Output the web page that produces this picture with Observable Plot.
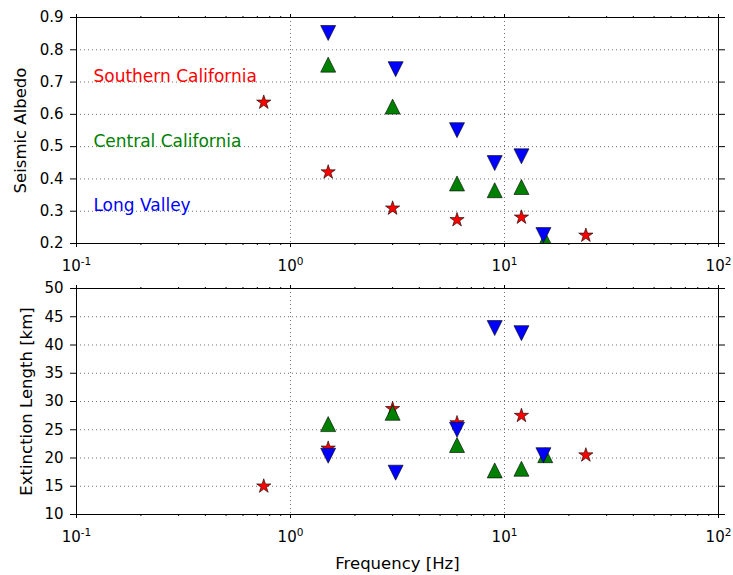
<!DOCTYPE html>
<html><head><meta charset="utf-8">
<script src="https://cdn.jsdelivr.net/npm/d3@7"></script>
<script src="https://cdn.jsdelivr.net/npm/@observablehq/plot@0.6"></script>
<style>body{margin:0;background:#fff} #chart svg{display:block}</style>
</head><body><div id="chart"></div>
<script>
// ---- data ----
const freqSoCal = [0.75, 1.5, 3, 6, 12, 24];
const freqCentral = [1.5, 3, 6, 9, 12, 15.5];
const freqLongValley = [1.5, 3.1, 6, 9, 12, 15.2];
const albedoSoCal = [0.637, 0.421, 0.309, 0.273, 0.281, 0.225];
const albedoCentral = [0.754, 0.624, 0.386, 0.365, 0.375, 0.212];
const albedoLongValley = [0.852, 0.740, 0.551, 0.449, 0.470, 0.226];
const extSoCal = [15.0, 21.7, 28.7, 26.2, 27.5, 20.5];
const extCentral = [26.0, 28.0, 22.3, 17.8, 18.1, 20.5];
const extLongValley = [20.4, 17.4, 25.0, 43.0, 42.1, 20.5];
const regionNames = ["Southern California", "Central California", "Long Valley"];
const regionColors = ["#ff0000", "#008000", "#0000ff"];
const regionLabelY = [0.7, 0.5, 0.3];
const regionLabelX = 0.12;
const xMajor = [0.1, 1, 10, 100];
const xTickBase = "10";
const xTickExponents = ["-1", "0", "1", "2"];
const xMinor = [0.2, 0.3, 0.4, 0.5, 0.6, 0.7, 0.8, 0.9, 2, 3, 4, 5, 6, 7, 8, 9, 20, 30, 40, 50, 60, 70, 80, 90];
const xGrid = [1, 10];
const albedoTicks = [0.2, 0.3, 0.4, 0.5, 0.6, 0.7, 0.8, 0.9];
const albedoTickLabels = ["0.2", "0.3", "0.4", "0.5", "0.6", "0.7", "0.8", "0.9"];
const extTicks = [10, 15, 20, 25, 30, 35, 40, 45, 50];

// ---- marker shapes (matplotlib-like) ----
const triUp = {draw(c, size) { const h = Math.sqrt(size / Math.PI); c.moveTo(0, -h); c.lineTo(h, h); c.lineTo(-h, h); c.closePath(); }};
const triDown = {draw(c, size) { const h = Math.sqrt(size / Math.PI); c.moveTo(0, h); c.lineTo(h, -h); c.lineTo(-h, -h); c.closePath(); }};
const star = {draw(c, size) {
  const R = Math.sqrt(size / Math.PI), r = R * 0.381966;
  for (let i = 0; i < 10; i++) {
    const a = -Math.PI / 2 + i * Math.PI / 5, rr = i % 2 ? r : R;
    const px = rr * Math.cos(a), py = rr * Math.sin(a);
    if (i === 0) c.moveTo(px, py); else c.lineTo(px, py);
  }
  c.closePath();
}};
const symbols = [star, triUp, triDown];

const rows = (f, v) => f.map((d, i) => ({f: d, v: v[i]}));
const gridStyle = {stroke: "#000", strokeOpacity: 0.7, strokeWidth: 0.8, strokeDasharray: "1,3"};

// measure text widths for centring "10" + superscript exponent
const ctx2d = document.createElement("canvas").getContext("2d");
function textWidth(s, size) { ctx2d.font = `${size}px "DejaVu Sans"`; return ctx2d.measureText(s).width; }
const baseSize = 15, expSize = 10.5;

function xTickLabelMarks() {
  const B = textWidth(xTickBase, baseSize);
  return xMajor.flatMap((v, i) => {
    const E = textWidth(xTickExponents[i], expSize);
    const dx = (B - E) / 2;
    return [
      Plot.text([v], {x: d => d, text: () => xTickBase, frameAnchor: "bottom", textAnchor: "end", lineAnchor: "top", dx, dy: 16.5, fontSize: baseSize}),
      Plot.text([v], {x: d => d, text: () => xTickExponents[i], frameAnchor: "bottom", textAnchor: "start", lineAnchor: "top", dx, dy: 13.8, fontSize: expSize})
    ];
  });
}

function panel({series, yDomain, yTicks, yFormat, yGrid, yLabel, yLabelDx, height, marginTop, marginBottom, texts, xLabel}) {
  const marks = [
    Plot.gridX(xGrid, gridStyle),
    Plot.gridY(yGrid, gridStyle),
    Plot.axisX(xMajor, {anchor: "bottom", tickSize: 4, label: null, tickFormat: () => ""}),
    Plot.axisX(xMinor, {anchor: "bottom", tickSize: 2, label: null, tickFormat: () => ""}),
    Plot.axisX(xMajor, {anchor: "top", tickSize: 4, label: null, tickFormat: () => ""}),
    Plot.axisX(xMinor, {anchor: "top", tickSize: 2, label: null, tickFormat: () => ""}),
    ...xTickLabelMarks(),
    Plot.axisY(yTicks, {anchor: "left", tickSize: 6, tickPadding: 7, label: null, tickFormat: yFormat}),
    Plot.axisY(yTicks, {anchor: "right", tickSize: 6, label: null, tickFormat: () => ""}),
    ...series.map((s, i) => Plot.dot(s, {x: "f", y: "v", r: 7.5, symbol: symbols[i], fill: regionColors[i], stroke: "#000", strokeWidth: 0.6, clip: true})),
    Plot.frame({stroke: "#000", strokeWidth: 1}),
    Plot.text([yLabel], {text: d => d, frameAnchor: "left", dx: yLabelDx, rotate: -90, textAnchor: "middle", lineAnchor: "middle", fontSize: 16.5})
  ];
  if (texts) {
    regionNames.forEach((n, i) => marks.push(Plot.text([n], {text: d => d, x: () => regionLabelX, y: () => regionLabelY[i], fill: regionColors[i], textAnchor: "start", lineAnchor: "bottom", fontSize: 17})));
  }
  if (xLabel) {
    marks.push(Plot.text([xLabel], {text: d => d, frameAnchor: "bottom", dy: 49, lineAnchor: "middle", fontSize: 16.5}));
  }
  return Plot.plot({
    width: 733, height, marginLeft: 76, marginRight: 15, marginTop, marginBottom,
    x: {type: "log", domain: [0.1, 100]},
    y: {domain: yDomain},
    style: {fontFamily: "DejaVu Sans", fontSize: "15px", background: "#fff", color: "#000"},
    marks
  });
}

const topPanel = panel({
  series: [rows(freqSoCal, albedoSoCal), rows(freqCentral, albedoCentral), rows(freqLongValley, albedoLongValley)],
  yDomain: [0.2, 0.9], yTicks: albedoTicks, yFormat: d => albedoTickLabels[albedoTicks.indexOf(d)],
  yGrid: albedoTicks.slice(1, -1), yLabel: "Seismic Albedo", yLabelDx: -56,
  height: 280, marginTop: 17, marginBottom: 37, texts: true
});
const bottomPanel = panel({
  series: [rows(freqSoCal, extSoCal), rows(freqCentral, extCentral), rows(freqLongValley, extLongValley)],
  yDomain: [10, 50], yTicks: extTicks, yFormat: d => String(d),
  yGrid: extTicks.slice(1, -1), yLabel: "Extinction Length [km]", yLabelDx: -50,
  height: 295, marginTop: 8, marginBottom: 61, texts: false, xLabel: "Frequency [Hz]"
});
document.getElementById("chart").append(topPanel, bottomPanel);
</script>
</body></html>
